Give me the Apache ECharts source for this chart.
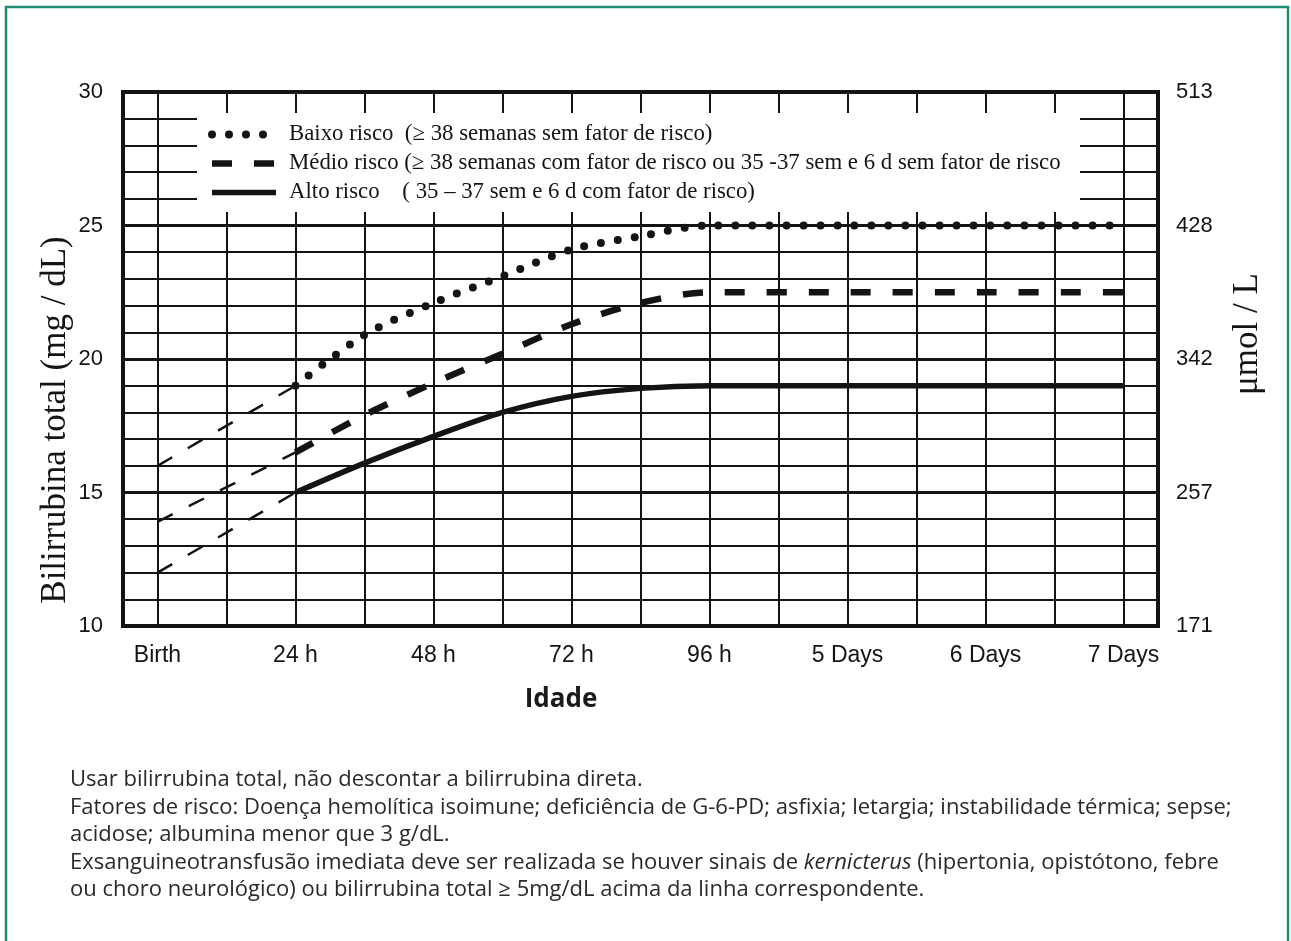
<!DOCTYPE html>
<html><head><meta charset="utf-8">
<script src="https://cdn.jsdelivr.net/npm/echarts@6/dist/echarts.min.js"></script>
<style>html,body{margin:0;padding:0;background:#fff;}#c{width:1291px;height:941px;}</style>
</head><body><div id="c"></div>
<script>
// ---- data ----
const xGridHours = [0,12,24,36,48,60,72,84,96,108,120,132,144,156,168];
const xLabelHours = [0,24,48,72,96,120,144,168];
const xLabels = ['Birth','24 h','48 h','72 h','96 h','5 Days','6 Days','7 Days'];
const yTicks = [10,15,20,25,30];
const umolLabels = ['171','257','342','428','513'];

const seriesNames = [
  'Baixo risco  (\u2265 38 semanas sem fator de risco)',
  'Médio risco (\u2265 38 semanas com fator de risco ou 35 -37 sem e 6 d sem fator de risco',
  'Alto risco    ( 35 \u2013 37 sem e 6 d com fator de risco)'
];
const curveHours = [24,36,48,60,72,84,96,120,144,168];
const baixo = [19.0,20.9,22.1,23.1,24.1,24.6,25.0,25.0,25.0,25.0];
const medio = [16.5,17.9,19.1,20.2,21.3,22.1,22.5,22.5,22.5,22.5];
const alto  = [15.0,16.1,17.1,18.0,18.6,18.9,19.0,19.0,19.0,19.0];

const extHours = [0,24];
const baixoExt = [16.0,19.0];
const medioExt = [13.9,16.5];
const altoExt  = [12.0,15.0];

const notes = [
  'Usar bilirrubina total, não descontar a bilirrubina direta.',
  'Fatores de risco: Doença hemolítica isoimune; deficiência de G-6-PD; asfixia; letargia; instabilidade térmica; sepse;',
  'acidose; albumina menor que 3 g/dL.',
  'Exsanguineotransfusão imediata deve ser realizada se houver sinais de {i|kernicterus} (hipertonia, opistótono, febre',
  'ou choro neurológico) ou bilirrubina total \u2265 5mg/dL acima da linha correspondente.'
];

// ---- helpers ----
const pairs = (xs, ys) => xs.map((x, i) => [x, ys[i]]);
const INK = '#141414';
const styles = [
  {width: 8, type: [0, 17], cap: 'round', color: INK},
  {width: 6.5, type: [20, 22], cap: 'butt', color: INK},
  {width: 5.5, type: 'solid', cap: 'butt', color: INK}
];
const extStyle = {width: 2.5, type: [17, 18], color: INK};

const chart = echarts.init(document.getElementById('c'), null, {renderer: 'canvas'});

const mainSeries = [baixo, medio, alto].map((d, i) => ({
  name: seriesNames[i], type: 'line', data: pairs(curveHours, d), color: INK,
  symbol: 'none', smooth: 0.3, lineStyle: styles[i], itemStyle: {color: INK}, z: 3, silent: true
}));
const extSeries = [baixoExt, medioExt, altoExt].map(d => ({
  name: 'ext', type: 'line', data: pairs(extHours, d), color: INK,
  symbol: 'none', lineStyle: extStyle, z: 3, silent: true
}));

const NOTE_FONT = 22;
const noteGraphics = notes.map((t, i) => ({
  type: 'text', x: 70, y: 780 + i * 27.5, z: 5,
  style: {
    text: t, fontFamily: '"Open Sans"', fontSize: NOTE_FONT, fill: '#2a2a2a',
    align: 'left', verticalAlign: 'middle',
    rich: {i: {fontStyle: 'italic', fontFamily: '"Open Sans"', fontSize: NOTE_FONT, fill: '#2a2a2a'}}
  }
}));

chart.setOption({
  animation: false,
  backgroundColor: '#fff',
  grid: {left: 123, right: 133, top: 92, bottom: 315, show: true, borderColor: INK, borderWidth: 4, backgroundColor: 'transparent'},
  legend: {
    orient: 'vertical', left: 208, top: 123, padding: 0,
    itemWidth: 64, itemHeight: 22, itemGap: 6, z: 6,
    selectedMode: false,
    textStyle: {fontFamily: '"Liberation Serif"', fontSize: 22.8, color: INK, padding: [0, 0, 0, 8]},
    data: seriesNames.map((n, i) => ({
      name: n, lineStyle: styles[i],
      itemStyle: {color: 'rgba(0,0,0,0)', borderWidth: 0, opacity: 0}
    }))
  },
  xAxis: {
    type: 'value', min: -6, max: 174,
    axisLine: {show: false},
    axisTick: {show: false, customValues: xGridHours},
    axisLabel: {customValues: xLabelHours, formatter: v => xLabels[xLabelHours.indexOf(v)],
      fontFamily: '"Liberation Sans"', fontSize: 23, color: INK, margin: 18},
    splitLine: {show: true, lineStyle: {color: INK, width: 2}}
  },
  yAxis: [{
    type: 'value', min: 10, max: 30, interval: 5,
    axisLine: {show: false}, axisTick: {show: false},
    axisLabel: {fontFamily: '"Liberation Sans"', fontSize: 22, color: INK, margin: 20},
    splitLine: {show: true, lineStyle: {color: INK, width: 3}},
    minorTick: {show: false, splitNumber: 5},
    minorSplitLine: {show: true, lineStyle: {color: INK, width: 2}}
  }, {
    type: 'value', min: 10, max: 30, interval: 5, position: 'right',
    axisLine: {show: false}, axisTick: {show: false}, splitLine: {show: false},
    axisLabel: {formatter: v => umolLabels[yTicks.indexOf(v)],
      fontFamily: '"Liberation Sans"', fontSize: 22, color: INK, margin: 18}
  }],
  graphic: [
    {type: 'rect', shape: {x: 6, y: 7, width: 1282, height: 960}, style: {fill: 'none', stroke: '#1b8a70', lineWidth: 2.5}, z: 0, silent: true},
    {type: 'rect', shape: {x: 197, y: 113, width: 883, height: 99}, style: {fill: '#fff'}, z: 1, silent: true},
    {type: 'text', x: 56, y: 420, rotation: Math.PI / 2, z: 5,
      style: {text: 'Bilirrubina total (mg / dL)', fontFamily: '"Liberation Serif"', fontSize: 35, fill: INK, align: 'center', verticalAlign: 'middle'}},
    {type: 'text', x: 1248, y: 334, rotation: Math.PI / 2, z: 5,
      style: {text: '\u03bcmol / L', fontFamily: '"Liberation Serif"', fontSize: 35, fill: INK, align: 'center', verticalAlign: 'middle'}},
    {type: 'text', x: 561, y: 700, z: 5,
      style: {text: 'Idade', fontFamily: '"Open Sans"', fontWeight: 'bold', fontSize: 26, fill: '#1a1a1a', align: 'center', verticalAlign: 'middle'}},
    ...noteGraphics
  ],
  series: [...mainSeries, ...extSeries]
});
</script></body></html>
